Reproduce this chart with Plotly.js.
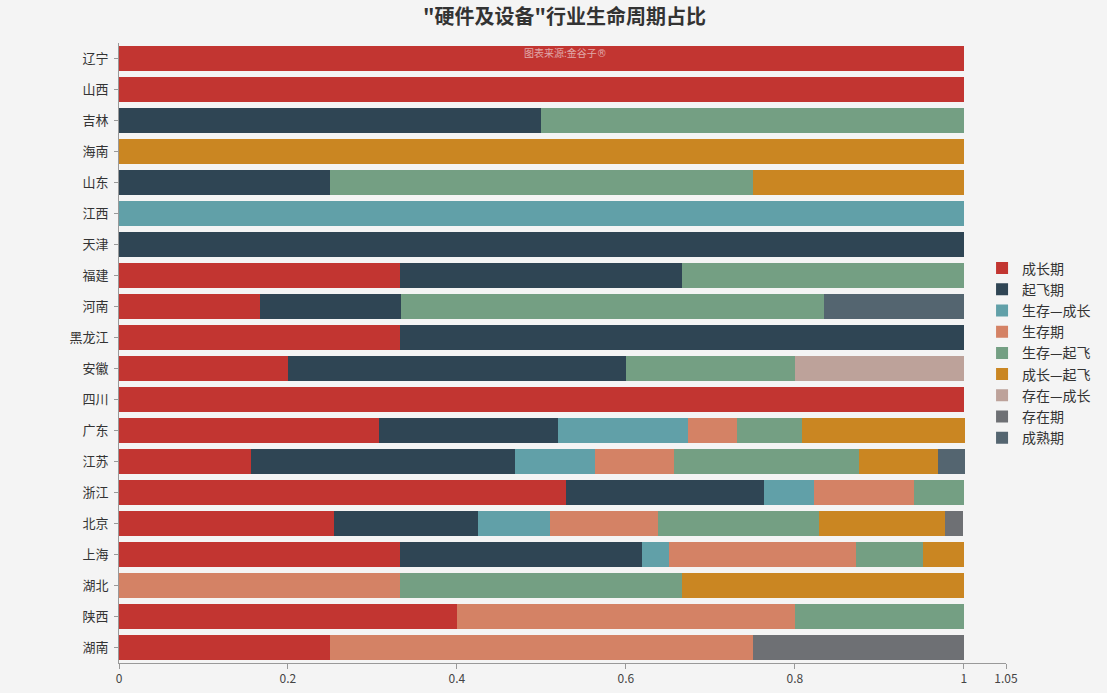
<!DOCTYPE html>
<html>
<head>
<meta charset="utf-8">
<script src="https://cdn.plot.ly/plotly-3.0.1.min.js"></script>
<style>
html,body{margin:0;padding:0;background:#f4f4f4;}
#chart{width:1107px;height:693px;}
</style>
</head>
<body>
<div id="chart"></div>
<script>
const provinces = ["辽宁","山西","吉林","海南","山东","江西","天津","福建","河南","黑龙江","安徽","四川","广东","江苏","浙江","北京","上海","湖北","陕西","湖南"];

const seriesNames = ["成长期","起飞期","生存—成长","生存期","生存—起飞","成长—起飞","存在—成长","存在期","成熟期"];
const seriesColors = ["#c23531","#2f4554","#61a0a8","#d48265","#749f83","#ca8622","#bda29a","#6e7074","#546570"];

const growth      = [1,1,0,0,0,0,0,0.333,0.167,0.333,0.2,1,0.308,0.156,0.529,0.255,0.333,0,0.4,0.25];
const takeoff     = [0,0,0.5,0,0.25,0,1,0.333,0.167,0.667,0.4,0,0.212,0.313,0.235,0.170,0.286,0,0,0];
const surviveGrow = [0,0,0,0,0,1,0,0,0,0,0,0,0.154,0.094,0.059,0.085,0.032,0,0,0];
const survive     = [0,0,0,0,0,0,0,0,0,0,0,0,0.058,0.094,0.118,0.128,0.222,0.333,0.4,0.5];
const surviveTake = [0,0,0.5,0,0.5,0,0,0.334,0.5,0,0.2,0,0.077,0.219,0.059,0.191,0.079,0.334,0.2,0];
const growTake    = [0,0,0,1,0.25,0,0,0,0,0,0,0,0.192,0.094,0,0.149,0.048,0.333,0,0];
const existGrow   = [0,0,0,0,0,0,0,0,0,0,0.2,0,0,0,0,0,0,0,0,0];
const exist       = [0,0,0,0,0,0,0,0,0,0,0,0,0,0,0,0.021,0,0,0,0.25];
const mature      = [0,0,0,0,0,0,0,0,0.166,0,0,0,0,0.031,0,0,0,0,0,0];

const seriesValues = [growth,takeoff,surviveGrow,survive,surviveTake,growTake,existGrow,exist,mature];

const xTicks = [0,0.2,0.4,0.6,0.8,1,1.05];
const xTickText = ["0","0.2","0.4","0.6","0.8","1","1.05"];

const FONT = '"Noto Sans CJK SC", "Noto Sans", sans-serif';

const traces = seriesNames.map((name,i)=>({
  type:'bar',
  orientation:'h',
  name:name,
  y:provinces,
  x:seriesValues[i],
  marker:{color:seriesColors[i]},
  hoverinfo:'name+x'
}));

const layout = {
  width:1107,
  height:693,
  paper_bgcolor:'#f4f4f4',
  plot_bgcolor:'#f4f4f4',
  barmode:'stack',
  bargap:0.2,
  margin:{l:119,r:101,t:43,b:30,autoexpand:false},
  font:{family:FONT,color:'#333'},
  title:{
    text:'"硬件及设备"行业生命周期占比',
    x:0.51, xanchor:'center',
    y:0.985, yanchor:'top',
    font:{family:FONT,size:20,color:'#333',weight:'bold'}
  },
  xaxis:{
    range:[0,1.05],
    tickvals:xTicks,
    ticktext:xTickText,
    showgrid:false,
    zeroline:false,
    showline:true,
    linecolor:'#999',
    linewidth:1,
    ticks:'outside',
    ticklen:5,
    tickcolor:'#999',
    tickfont:{size:12,color:'#444'}
  },
  yaxis:{
    autorange:'reversed',
    showgrid:false,
    zeroline:false,
    showline:true,
    linecolor:'#999',
    linewidth:1,
    ticks:'outside',
    ticklen:4,
    tickcolor:'#999',
    ticksuffix:' ',
    tickfont:{size:13,color:'#333'}
  },
  legend:{
    x:0.973, xanchor:'left',
    y:0.5, yanchor:'middle',
    bgcolor:'rgba(0,0,0,0)',
    font:{size:14,color:'#333'},
    traceorder:'normal',
    itemwidth:30,
    tracegroupgap:0
  },
  annotations:[{
    text:'图表来源:金谷子<span style="font-family:DejaVu Sans">®</span>',
    xref:'paper', yref:'paper',
    x:0.503, y:0.985,
    xanchor:'center', yanchor:'middle',
    showarrow:false,
    font:{size:10,color:'#e0a8a8',family:FONT}
  }]
};

Plotly.newPlot('chart',traces,layout,{displayModeBar:false});
</script>
</body>
</html>
